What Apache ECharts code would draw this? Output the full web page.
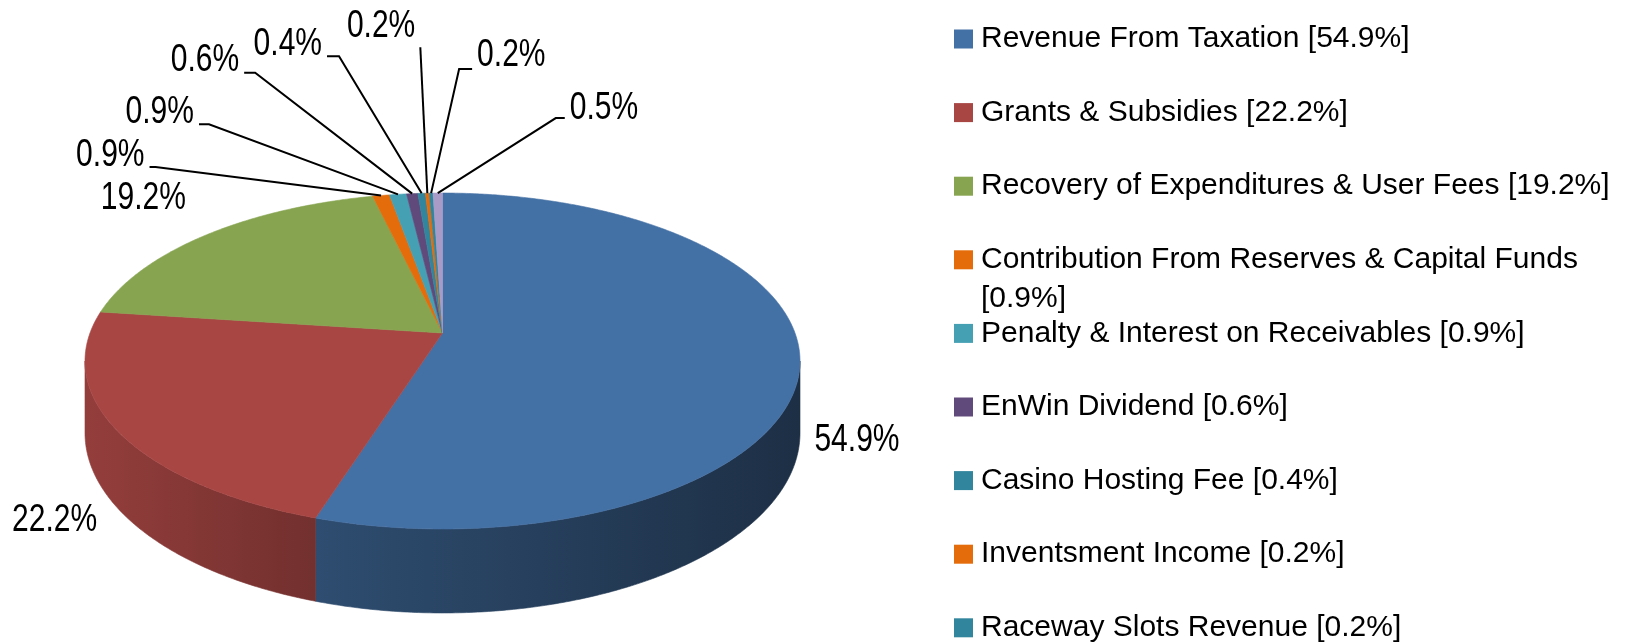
<!DOCTYPE html>
<html>
<head>
<meta charset="utf-8">
<script src="https://cdn.jsdelivr.net/npm/echarts@6/dist/echarts.min.js"></script>
<style>
html,body{margin:0;padding:0;background:#fff;}
#chart{width:1634px;height:644px;}
</style>
</head>
<body>
<div id="chart"></div>
<script>
// ---------------- data ----------------
const categories = [
  'Revenue From Taxation',
  'Grants & Subsidies',
  'Recovery of Expenditures & User Fees',
  'Contribution From Reserves & Capital Funds',
  'Penalty & Interest on Receivables',
  'EnWin Dividend',
  'Casino Hosting Fee',
  'Inventsment Income',
  'Raceway Slots Revenue',
  'Other Revenue'
];
const shares = [54.9, 22.2, 19.2, 0.9, 0.9, 0.6, 0.4, 0.2, 0.2, 0.5];
const legendRowsA = [0, 1, 2];      // first block of legend rows
const legendRowsB = [3];            // wrapped row
const legendRowsC = [4, 5, 6, 7, 8];// remaining visible rows

// ---------------- styles ----------------
const colors = ['#4471A5', '#A84644', '#87A450', '#E46C0A', '#46A0B4',
                '#604A7B', '#31859C', '#E46C0A', '#31859C', '#A99BC8'];
const LABEL_FONT = "'Liberation Sans',Arial,sans-serif";
const LEGEND_FONT = "'Liberation Sans',Arial,sans-serif";
const LABEL_SIZE = 38, LABEL_SQUEEZE = 0.79;
// 3D pie geometry (perspective ellipse)
const G = {cx: 442.5, cy: 333, kx: 352.5, ky: 163.3, p: 0.1667, depth: 70};
// label layout: offsets from the slice's rim midpoint
const labelLayout = [
  {dx: 57, dy: 83},
  {dx: -61, dy: 93},
  {dx: -64, dy: -34},
  {dx: -225.5, dy: -28.5, seg: -6, side: -1, line: true},
  {dx: -189, dy: -70, seg: -10, side: -1, line: true},
  {dx: -157, dy: -121, seg: -11, side: -1, line: true},
  {dx: -82.6, dy: -137, seg: -12, side: -1, line: true},
  {dx: -7, dy: -146, seg: 0, side: -1, line: true, lift: -9},
  {dx: 28, dy: -124, seg: 13, side: 1, line: true, lift: -2},
  {dx: 118, dy: -75, seg: 9, side: 1, line: true, lift: 2}
];

function P(theta, h) {
  const t = theta * Math.PI / 180;
  const u = Math.sin(t), v = Math.cos(t), w = 1 + G.p * v;
  return [G.cx + G.kx * u / w, G.cy - G.ky * v / w + h * G.depth / w];
}
function shade(hex, f) {
  const n = parseInt(hex.slice(1), 16);
  const r = Math.round(((n >> 16) & 255) * f), g = Math.round(((n >> 8) & 255) * f), b = Math.round((n & 255) * f);
  return 'rgb(' + r + ',' + g + ',' + b + ')';
}
const total = shares.reduce((a, b) => a + b, 0);
const tR = Math.acos(-G.p) * 180 / Math.PI;  // right silhouette angle
const tL = 360 - tR;                          // left silhouette angle
const halfW = G.kx / Math.sqrt(1 - G.p * G.p);

function labelText(x, y, text, align) {
  return {type: 'text', z2: 30, x: x, y: y, scaleX: LABEL_SQUEEZE,
    style: {text: text, fontSize: LABEL_SIZE, fontFamily: LABEL_FONT, fill: '#000',
      align: align, verticalAlign: 'middle'}};
}

function makeRender(i) {
  return function (params, api) {
    const val = api.value(0);
    let start = 0;
    for (let k = 0; k < i; k++) start += shares[k];
    const a0 = start / total * 360, a1 = (start + val) / total * 360;
    const children = [];
    const col = colors[i];
    // top face
    const top = [[G.cx, G.cy]];
    const n = Math.max(2, Math.ceil((a1 - a0) / 0.5));
    for (let s = 0; s <= n; s++) top.push(P(a0 + (a1 - a0) * s / n, 0));
    children.push({type: 'polygon', z2: 10, shape: {points: top},
      style: {fill: col, stroke: col, lineWidth: 0.6}});
    // side wall (visible front part)
    const b0 = Math.max(a0, tR), b1 = Math.min(a1, tL);
    if (b1 > b0) {
      const pts = [];
      const m = Math.max(2, Math.ceil((b1 - b0) / 0.5));
      for (let s = 0; s <= m; s++) pts.push(P(b0 + (b1 - b0) * s / m, 0));
      for (let s = m; s >= 0; s--) pts.push(P(b0 + (b1 - b0) * s / m, 1));
      const grad = new echarts.graphic.LinearGradient(G.cx - halfW, 0, G.cx + halfW, 0, [
        {offset: 0, color: shade(col, 0.88)},
        {offset: 0.32, color: shade(col, 0.68)},
        {offset: 1, color: shade(col, 0.42)}
      ], true);
      children.push({type: 'polygon', z2: 1, shape: {points: pts},
        style: {fill: grad, stroke: grad, lineWidth: 0.6}});
    }
    // label
    const L = labelLayout[i];
    const rim = P((a0 + a1) / 2, 0);
    const text = val.toFixed(1) + '%';
    if (L.line) {
      const ex = rim[0] + L.dx, ey = rim[1] + L.dy;
      const sx = ex + L.seg;
      children.push({type: 'polyline', z2: 20, shape: {points: [rim, [ex, ey], [sx, ey]]},
        style: {stroke: '#000', lineWidth: 2, fill: null}});
      children.push(labelText(sx + L.side * 5, ey - 12 + (L.lift || 0), text, L.side < 0 ? 'right' : 'left'));
    } else {
      children.push(labelText(rim[0] + L.dx, rim[1] + L.dy - 1.5, text, 'center'));
    }
    return {type: 'group', children: children};
  };
}

const series = categories.map((name, i) => ({
  type: 'custom',
  name: name,
  coordinateSystem: 'none',
  silent: true,
  animation: false,
  itemStyle: {color: colors[i]},
  data: [[shares[i]]],
  renderItem: makeRender(i)
}));

const legendBase = {
  orient: 'vertical', left: 954, height: 600, padding: 0,
  itemWidth: 19, itemHeight: 19, itemGap: 37.6, icon: 'rect', selectedMode: false,
  formatter: function (name) {
    const i = categories.indexOf(name);
    return name + ' [' + shares[i].toFixed(1) + '%]';
  },
  textStyle: {fontFamily: LEGEND_FONT, fontSize: 30, color: '#000', lineHeight: 36, padding: [0, 0, 0, 3]}
};

const option = {
  backgroundColor: '#fff',
  animation: false,
  legend: [
    Object.assign({}, legendBase, {top: 21, data: legendRowsA.map(i => categories[i])}),
    Object.assign({}, legendBase, {
      top: 201.3,
      formatter: function (name) {
        const i = categories.indexOf(name);
        return '\n' + name + '\n[' + shares[i].toFixed(1) + '%]';
      },
      textStyle: {fontFamily: LEGEND_FONT, fontSize: 30, color: '#000', lineHeight: 39, padding: [0, 0, 0, 3]},
      data: legendRowsB.map(i => categories[i])
    }),
    Object.assign({}, legendBase, {top: 315.4, data: legendRowsC.map(i => categories[i])})
  ],
  series: series
};

const chart = echarts.init(document.getElementById('chart'), null, {renderer: 'canvas'});
chart.setOption(option);
</script>
</body>
</html>
